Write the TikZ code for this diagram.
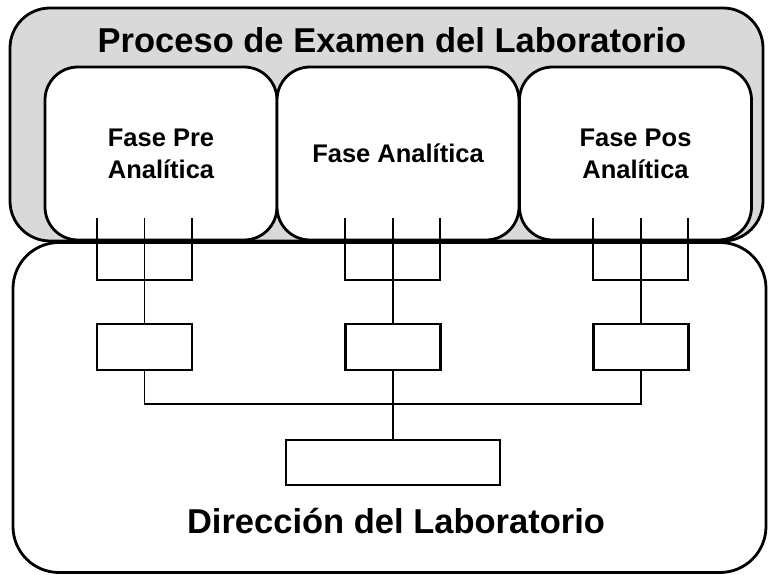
\documentclass[tikz,border=0pt]{standalone}
\usepackage{fontspec}
\setmainfont{Liberation Sans}
\definecolor{bggrey}{HTML}{D9D9D9}
\begin{document}
\begin{tikzpicture}[x=1pt,y=-1pt,
  bigline/.style={line width=2.8pt, draw=black},
  greybox/.style={bigline, fill=bggrey, rounded corners=40pt, inner sep=0pt},
  dirbox/.style={bigline, fill=white, rounded corners=46pt, inner sep=0pt},
  phasebox/.style={bigline, fill=white, rounded corners=33pt, inner sep=0pt,
    minimum width=232pt, minimum height=173pt, align=center,
    font=\bfseries\fontsize{25.5}{32}\selectfont},
  smallbox/.style={line width=2.6pt, draw=black, fill=white, inner sep=0pt,
    minimum width=95pt, minimum height=46pt},
  conn/.style={line width=1.5pt, draw=black},
  bigtext/.style={font=\bfseries\fontsize{34.5}{40}\selectfont, anchor=base, inner sep=0pt}
]
\useasboundingbox (0,0) rectangle (769,575);
% outer grey container
\node[greybox, minimum width=753pt, minimum height=233pt] (outer) at (386.5,124.5) {};
\node[bigtext] (title) at (392,53) {Proceso de Examen del Laboratorio};
% bottom container
\node[dirbox, minimum width=753pt, minimum height=330pt] (dir) at (389.5,407.5) {};
% phases
\node[phasebox] (p1) at (161,153.5) {Fase Pre\\Analítica};
\node[phasebox, minimum width=242pt] (p2) at (398,153.5) {Fase Analítica};
\node[phasebox] (p3) at (635.5,153.5) {Fase Pos\\Analítica};
% small boxes
\node[smallbox] (s1) at (144.5,347) {};
\node[smallbox] (s2) at (393,347) {};
\node[smallbox] (s3) at (641,347) {};
\node[smallbox, minimum width=214pt, minimum height=45pt] (d) at (393,462.5) {};
\node[bigtext] (dirtext) at (396,533) {Dirección del Laboratorio};
% connector coordinates
\coordinate (t1a) at (97,218);  \coordinate (t1b) at (144.5,218); \coordinate (t1c) at (192,218);
\coordinate (t2a) at (345,218); \coordinate (t2b) at (393,218);   \coordinate (t2c) at (440,218);
\coordinate (t3a) at (593,218); \coordinate (t3b) at (641,218);   \coordinate (t3c) at (688,218);
\coordinate (k1) at (144.5,280); \coordinate (k2) at (393,280); \coordinate (k3) at (641,280);
\coordinate (h) at (393,404);
% connectors
\draw[conn] (t1a) |- (k1) -| (t1c);
\draw[conn] (t1b) -- (s1.north);
\draw[conn] (t2a) |- (k2) -| (t2c);
\draw[conn] (t2b) -- (s2.north);
\draw[conn] (t3a) |- (k3) -| (t3c);
\draw[conn] (t3b) -- (s3.north);
\draw[conn] (s1.south) |- (h) -| (s3.south);
\draw[conn] (s2.south) -- (d.north);
\end{tikzpicture}
\end{document}
